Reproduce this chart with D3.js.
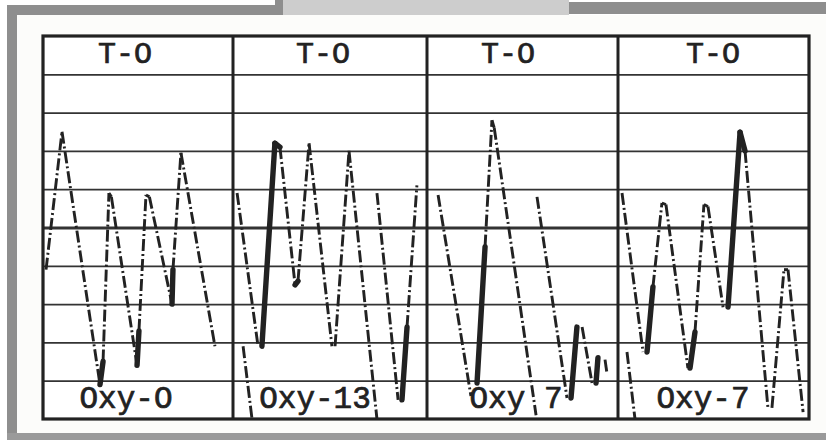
<!DOCTYPE html>
<html>
<head>
<meta charset="utf-8">
<script src="https://cdn.jsdelivr.net/npm/d3@7"></script>
<style>
  html, body { margin: 0; padding: 0; background: #ffffff; }
  svg { display: block; }
</style>
</head>
<body>
<svg id="chart" width="826" height="440"></svg>
<script>
// ---------------- DATA ----------------
const topLabels = ["T-O", "T-O", "T-O", "T-O"];
const bottomLabels = ["Oxy-O", "Oxy-13", "Oxy 7", "Oxy-7"];
const gridRows = [0, 1, 2, 3, 4, 5, 6, 7, 8, 9, 10];   // chart divisions
// each trace point: [time (0-100 across panel), level (0-10 divisions), pen]
// pen: "dd" dash-dot ink, "solid" heavy ink, "move" pen lifted, "start" first point
const panel1Trace = [
  [1.6, 3.9, "start"], [10.0, 7.5, "dd"], [30.0, 0.9, "dd"], [31.6, 1.5, "solid"],
  [34.7, 5.9, "dd"], [36.0, 5.8, "dd"], [49.5, 1.4, "dd"], [50.5, 2.3, "solid"],
  [54.2, 5.85, "dd"], [56.0, 5.8, "dd"], [67.9, 3.0, "dd"], [68.4, 3.9, "solid"],
  [72.6, 6.95, "dd"], [90.5, 1.9, "dd"]
];
const panel2TraceA = [
  [2.1, 5.9, "start"], [12.9, 1.9, "dd"], [14.9, 1.9, "move"], [21.6, 7.2, "solid"],
  [24.2, 7.1, "solid"], [32.0, 3.5, "dd"], [33.5, 3.6, "solid"], [39.2, 7.2, "dd"],
  [51.0, 1.9, "dd"], [52.6, 1.9, "move"], [59.8, 7.0, "dd"], [74.2, 0.0, "dd"]
];
const panel2TraceB = [
  [74.2, 5.9, "start"], [85.1, 0.5, "dd"], [87.1, 0.5, "move"], [89.7, 2.4, "solid"],
  [94.8, 6.1, "dd"]
];
const panel2TraceC = [[5.2, 1.9, "start"], [9.8, 0.0, "dd"]];
const panel3TraceA = [
  [5.8, 5.85, "start"], [23.0, 0.6, "dd"], [26.2, 0.94, "move"], [30.4, 4.5, "solid"],
  [34.0, 7.8, "dd"], [35.2, 7.6, "dd"], [57.1, 0.1, "dd"]
];
const panel3TraceB = [
  [57.6, 5.8, "start"], [73.3, 0.55, "dd"], [75.4, 0.55, "move"], [78.5, 2.4, "solid"],
  [81.2, 2.4, "move"], [86.4, 0.94, "dd"], [88.5, 0.94, "move"], [89.5, 1.6, "solid"],
  [93.2, 1.55, "move"], [94.2, 1.2, "dd"]
];
const panel4TraceA = [
  [2.1, 5.9, "start"], [13.1, 1.75, "dd"], [15.2, 1.75, "move"], [18.3, 3.45, "solid"],
  [23.0, 5.64, "dd"], [25.1, 5.6, "dd"], [36.6, 1.33, "dd"], [37.7, 1.33, "move"],
  [40.3, 2.27, "solid"], [45.0, 5.6, "dd"], [47.1, 5.55, "dd"], [55.0, 2.92, "dd"],
  [57.6, 2.92, "move"], [63.9, 7.49, "solid"], [66.5, 7.0, "solid"], [78.5, 0.29, "dd"],
  [80.6, 0.29, "move"], [86.9, 3.9, "dd"], [89.0, 3.9, "dd"], [96.9, 0.18, "dd"]
];
const panel4TraceB = [[4.7, 1.75, "start"], [8.9, 0.0, "dd"]];
const panelTraces = [
  [panel1Trace],
  [panel2TraceA, panel2TraceB, panel2TraceC],
  [panel3TraceA, panel3TraceB],
  [panel4TraceA, panel4TraceB]
];

// ---------------- LAYOUT ----------------
const box = { left: 43, right: 809, top: 36, bottom: 419 };
const panelEdges = [43, 233, 427, 618, 809];
const topLabelCx = [125, 323, 508, 713];
const bottomLabelCx = [126, 315, 516, 703];
const ink = "#222222";

const svg = d3.select("#chart");

// scanned mount / frame
const frame = svg.append("g");
frame.append("rect").attr("x", 0).attr("y", 0).attr("width", 826).attr("height", 440).attr("fill", "#ffffff");
frame.append("rect").attr("x", 283).attr("y", 0).attr("width", 286).attr("height", 15).attr("fill", "#cdcdcd");
frame.append("rect").attr("x", 7).attr("y", 5).attr("width", 276).attr("height", 10).attr("fill", "#8e8e8e");
frame.append("rect").attr("x", 275).attr("y", 0).attr("width", 8).attr("height", 15).attr("fill", "#8e8e8e");
frame.append("rect").attr("x", 569).attr("y", 2).attr("width", 257).attr("height", 12).attr("fill", "#8e8e8e");
frame.append("rect").attr("x", 7).attr("y", 5).attr("width", 10).attr("height", 435).attr("fill", "#8e8e8e");
frame.append("rect").attr("x", 7).attr("y", 433).attr("width", 819).attr("height", 7).attr("fill", "#9a9a9a");
frame.append("rect").attr("x", 17).attr("y", 15).attr("width", 809).attr("height", 418).attr("fill", "#fcfcfa");

// scales
const y = d3.scaleLinear().domain([0, 10]).range([box.bottom, box.top]);

const plot = svg.append("g");
plot.append("rect").attr("x", box.left).attr("y", box.top)
  .attr("width", box.right - box.left).attr("height", box.bottom - box.top)
  .attr("fill", "#ffffff");

// horizontal grid using a D3 axis
const gridAxis = d3.axisLeft(y).tickValues(gridRows.slice(1, 10))
  .tickSize(-(box.right - box.left)).tickFormat("");
const gridG = plot.append("g").attr("transform", `translate(${box.left},0)`).call(gridAxis);
gridG.select(".domain").remove();
gridG.selectAll(".tick line")
  .attr("stroke", "#333333")
  .attr("stroke-width", d => d === 5 ? 2.8 : 1.7);

// traces
const lineGen = d3.line().x(d => d.x).y(d => d.y);
panelTraces.forEach((traces, i) => {
  const x = d3.scaleLinear().domain([0, 100]).range([panelEdges[i], panelEdges[i + 1]]);
  const g = plot.append("g");
  traces.forEach(tr => {
    for (let k = 1; k < tr.length; k++) {
      const pen = tr[k][2];
      if (pen === "move") continue;
      const seg = [
        { x: x(tr[k - 1][0]), y: y(tr[k - 1][1]) },
        { x: x(tr[k][0]), y: y(tr[k][1]) }
      ];
      const p = g.append("path").attr("d", lineGen(seg)).attr("fill", "none")
        .attr("stroke", ink).attr("stroke-linecap", "round");
      if (pen === "solid") {
        p.attr("stroke-width", 5.4);
      } else {
        p.attr("stroke-width", 2.9).attr("stroke-dasharray", "12,3,2,3")
          .attr("stroke-linecap", "butt");
      }
    }
  });
});

// panel dividers
plot.selectAll("line.div").data(panelEdges.slice(1, 4)).enter().append("line")
  .attr("x1", d => d).attr("x2", d => d).attr("y1", box.top).attr("y2", box.bottom)
  .attr("stroke", ink).attr("stroke-width", 3);

// outer border
plot.append("rect").attr("x", box.left).attr("y", box.top)
  .attr("width", box.right - box.left).attr("height", box.bottom - box.top)
  .attr("fill", "none").attr("stroke", ink).attr("stroke-width", 3.2);

// labels
plot.selectAll("text.top").data(topLabels).enter().append("text")
  .attr("x", (d, i) => topLabelCx[i]).attr("y", y(9) - 11)
  .attr("text-anchor", "middle")
  .attr("font-family", "'Liberation Mono', 'DejaVu Sans Mono', monospace")
  .attr("font-size", 30).attr("fill", ink)
  .attr("stroke", ink).attr("stroke-width", 0.7).text(d => d);
plot.selectAll("text.bot").data(bottomLabels).enter().append("text")
  .attr("x", (d, i) => bottomLabelCx[i]).attr("y", y(0) - 11)
  .attr("text-anchor", "middle")
  .attr("font-family", "'Liberation Mono', 'DejaVu Sans Mono', monospace")
  .attr("font-size", 31).attr("fill", ink)
  .attr("stroke", ink).attr("stroke-width", 0.7).text(d => d);
</script>
</body>
</html>
